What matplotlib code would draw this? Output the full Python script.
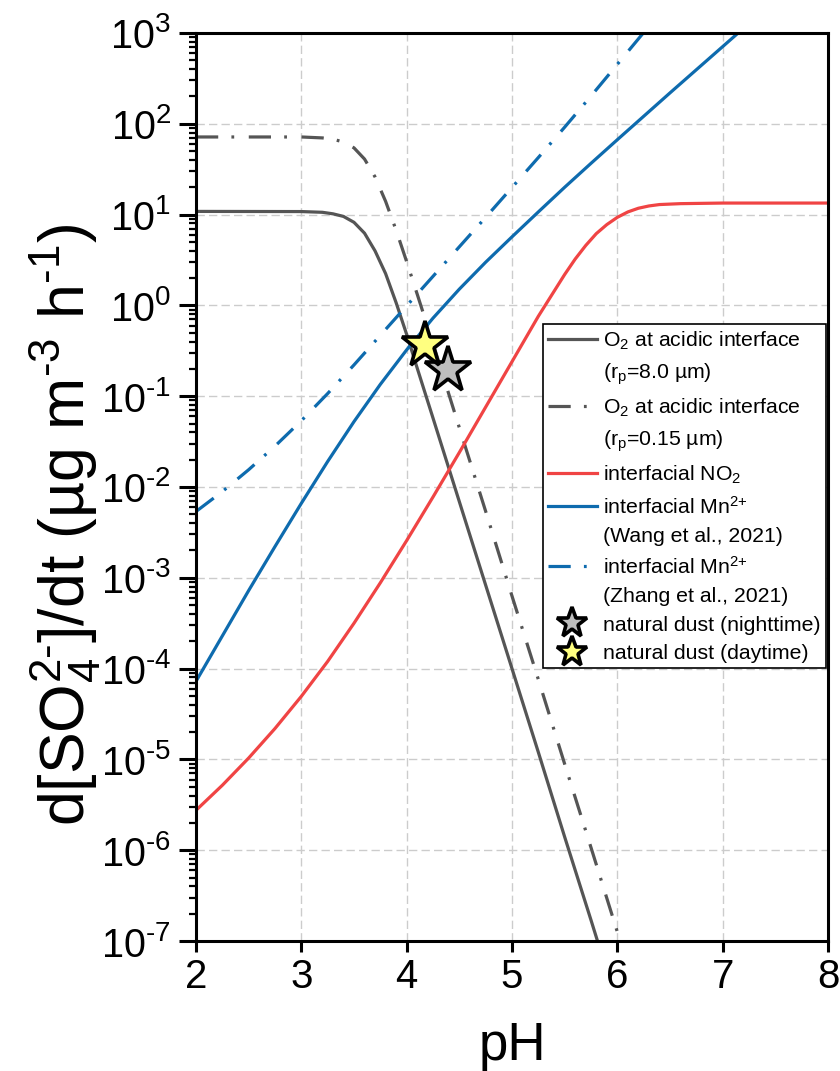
import matplotlib
matplotlib.use('Agg')
import matplotlib.pyplot as plt
import numpy as np
from matplotlib.ticker import LogLocator, NullFormatter, MultipleLocator, FuncFormatter
from matplotlib.lines import Line2D

plt.rcParams['font.family'] = ['Liberation Sans', 'DejaVu Sans']
plt.rcParams['mathtext.fontset'] = 'custom'
plt.rcParams['mathtext.rm'] = 'Liberation Sans'
plt.rcParams['mathtext.it'] = 'Liberation Sans:italic'
plt.rcParams['mathtext.bf'] = 'Liberation Sans:bold'
plt.rcParams['mathtext.default'] = 'regular'
plt.rcParams['lines.scale_dashes'] = False

# ---------------- data ----------------
ph_o2_large = [2.0, 3.0, 3.2, 3.3, 3.4, 3.5, 3.6, 3.7, 3.8, 3.9, 4.0, 4.1,
               4.25, 4.5, 4.75, 5.0, 5.25, 5.5, 5.75, 5.85]
rate_o2_large = [10.84, 10.8, 10.6, 10.2, 9.55, 8.22, 6.24, 3.98, 2.24, 1.07, 0.479,
                 0.204, 0.0575, 6.9e-3, 8.3e-4, 1.0e-4, 1.2e-5, 1.4e-6, 1.7e-7, 7.2e-8]

ph_o2_small = [2.0, 3.0, 3.2, 3.3, 3.4, 3.5, 3.6, 3.7, 3.8, 3.9, 4.0, 4.1,
               4.25, 4.5, 4.75, 5.0, 5.25, 5.5, 5.75, 6.0, 6.1]
rate_o2_small = [71.6, 71.6, 69.9, 67.6, 63.1, 54.3, 40.9, 26.0, 14.0, 6.73, 3.03,
                 1.33, 0.38, 0.045, 5.4e-3, 6.3e-4, 7.6e-5, 8.9e-6, 1.07e-6,
                 1.26e-7, 5.4e-8]

ph_no2 = [2.0, 2.25, 2.5, 2.75, 3.0, 3.25, 3.5, 3.75, 4.0, 4.25, 4.5, 4.75,
          5.0, 5.25, 5.5, 5.6, 5.7, 5.8, 5.9, 6.0, 6.1, 6.2, 6.3, 6.4, 6.6,
          7.0, 8.0]
rate_no2 = [2.75e-6, 5.19e-6, 1.035e-5, 2.19e-5, 4.95e-5, 1.20e-4, 3.16e-4,
            8.81e-4, 2.57e-3, 7.76e-3, 0.024, 0.0759, 0.24, 0.759, 2.19, 3.24,
            4.57, 6.17, 7.76, 9.33, 10.7, 11.75, 12.45, 12.9, 13.2, 13.4, 13.4]

ph_mn_wang = [2.0, 2.25, 2.5, 2.75, 3.0, 3.25, 3.5, 3.75, 4.0, 4.25, 4.5, 4.75,
              5.0, 5.25, 5.5, 5.75, 6.0, 6.5, 7.0, 7.25]
rate_mn_wang = [7.24e-5, 2.29e-4, 7.24e-4, 2.21e-3, 6.61e-3, 0.0191, 0.0525, 0.135,
                0.324, 0.724, 1.51, 2.99, 5.69, 10.7, 20.0, 36.7, 66.8, 219.0,
                708.0, 1274.0]

ph_mn_zhang = [2.0, 2.25, 2.5, 2.75, 3.0, 3.25, 3.5, 3.75, 4.0, 4.25, 4.5, 4.75,
               5.0, 5.25, 5.5, 5.75, 6.0, 6.25, 6.3]
rate_mn_zhang = [5.37e-3, 8.91e-3, 0.0155, 0.0282, 0.0537, 0.107, 0.221, 0.468,
                 0.989, 2.09, 4.42, 9.33, 19.9, 42.5, 91.8, 202.0, 452.0, 1012.0,
                 1189.0]

dust_night_ph = [4.395]
dust_night_rate = [0.195]
dust_day_ph = [4.174]
dust_day_rate = [0.37]

labels = ["O$_2$ at acidic interface", "(r$_p$=8.0 µm)",
          "O$_2$ at acidic interface", "(r$_p$=0.15 µm)",
          "interfacial NO$_2$",
          r"interfacial Mn$^{2\text{+}}$", "(Wang et al., 2021)",
          r"interfacial Mn$^{2\text{+}}$", "(Zhang et al., 2021)",
          "natural dust (nighttime)", "natural dust (daytime)"]

# ---------------- styles ----------------
GRAY = '#555555'
RED = '#F04444'
BLUE = '#0E6BAE'
LW = 2.3
DASHDOT = (0, (16, 9.5, 2, 10.5))

fig = plt.figure(figsize=(8.4, 10.71), dpi=100)
ax = fig.add_axes([0.23333, 0.12138, 0.75238, 0.84781])
ax.set_yscale('log')

l1, = ax.plot(ph_o2_large, rate_o2_large, color=GRAY, lw=LW)
l2, = ax.plot(ph_o2_small, rate_o2_small, color=GRAY, lw=LW, ls=DASHDOT)
l3, = ax.plot(ph_no2, rate_no2, color=RED, lw=LW)
l4, = ax.plot(ph_mn_wang, rate_mn_wang, color=BLUE, lw=LW)
l5, = ax.plot(ph_mn_zhang, rate_mn_zhang, color=BLUE, lw=LW, ls=DASHDOT)
s1, = ax.plot(dust_night_ph, dust_night_rate, ls='none', marker='*', ms=35,
              mfc='#BEBEBE', mec='black', mew=2.6, zorder=6)
s2, = ax.plot(dust_day_ph, dust_day_rate, ls='none', marker='*', ms=35,
              mfc='#FFFF80', mec='black', mew=2.6, zorder=7)

ax.set_xlim(2, 8)
ax.set_ylim(1e-7, 1e3)
ax.xaxis.set_major_locator(MultipleLocator(1))
ax.yaxis.set_major_locator(LogLocator(base=10, numticks=30))
ax.yaxis.set_minor_locator(LogLocator(base=10, subs=np.arange(2, 10), numticks=30))
ax.yaxis.set_minor_formatter(NullFormatter())


def log_fmt(v, pos):
    e = int(round(np.log10(v)))
    if e < 0:
        return r'$10^{\text{-}%d}$' % (-e)
    return r'$10^{%d}$' % e


ax.yaxis.set_major_formatter(FuncFormatter(log_fmt))

ax.grid(True, which='major', color='#CCCCCC', lw=1.0, ls=(0, (6, 3)))
ax.set_axisbelow(True)

for sp in ax.spines.values():
    sp.set_linewidth(2.2)
    sp.set_color('black')

ax.tick_params(axis='y', which='major', direction='out', length=12, width=2.2,
               labelsize=28.5, pad=6, right=False)
ax.tick_params(axis='y', which='minor', direction='out', length=5, width=1.6, right=False)
ax.tick_params(axis='x', which='major', direction='out', length=8, width=2.2,
               labelsize=29, pad=4, top=False)

ax.set_xlabel('pH', fontsize=38, labelpad=18)
ax.set_ylabel(r'd[SO$_4^{2\text{-}}$]/dt (µg m$^{\text{-}3}$ h$^{\text{-}1}$)',
              fontsize=45, va='center')
ax.yaxis.set_label_coords(-0.207, 0.458)

blank = Line2D([], [], color='none')
handles = [l1, blank, l2, blank, l3, l4, blank, l5, blank, s1, s2]
leg = ax.legend(handles, labels, loc='upper right', bbox_to_anchor=(0.997, 0.679),
                borderaxespad=0, fontsize=15.3, frameon=True, fancybox=False,
                edgecolor='black', framealpha=1, handlelength=2.3,
                handletextpad=0.3, borderpad=0.25, labelspacing=0.45,
                markerscale=0.66)
leg.get_frame().set_linewidth(1.2)
leg.set_zorder(10)

fig.savefig('out.png', dpi=100)
